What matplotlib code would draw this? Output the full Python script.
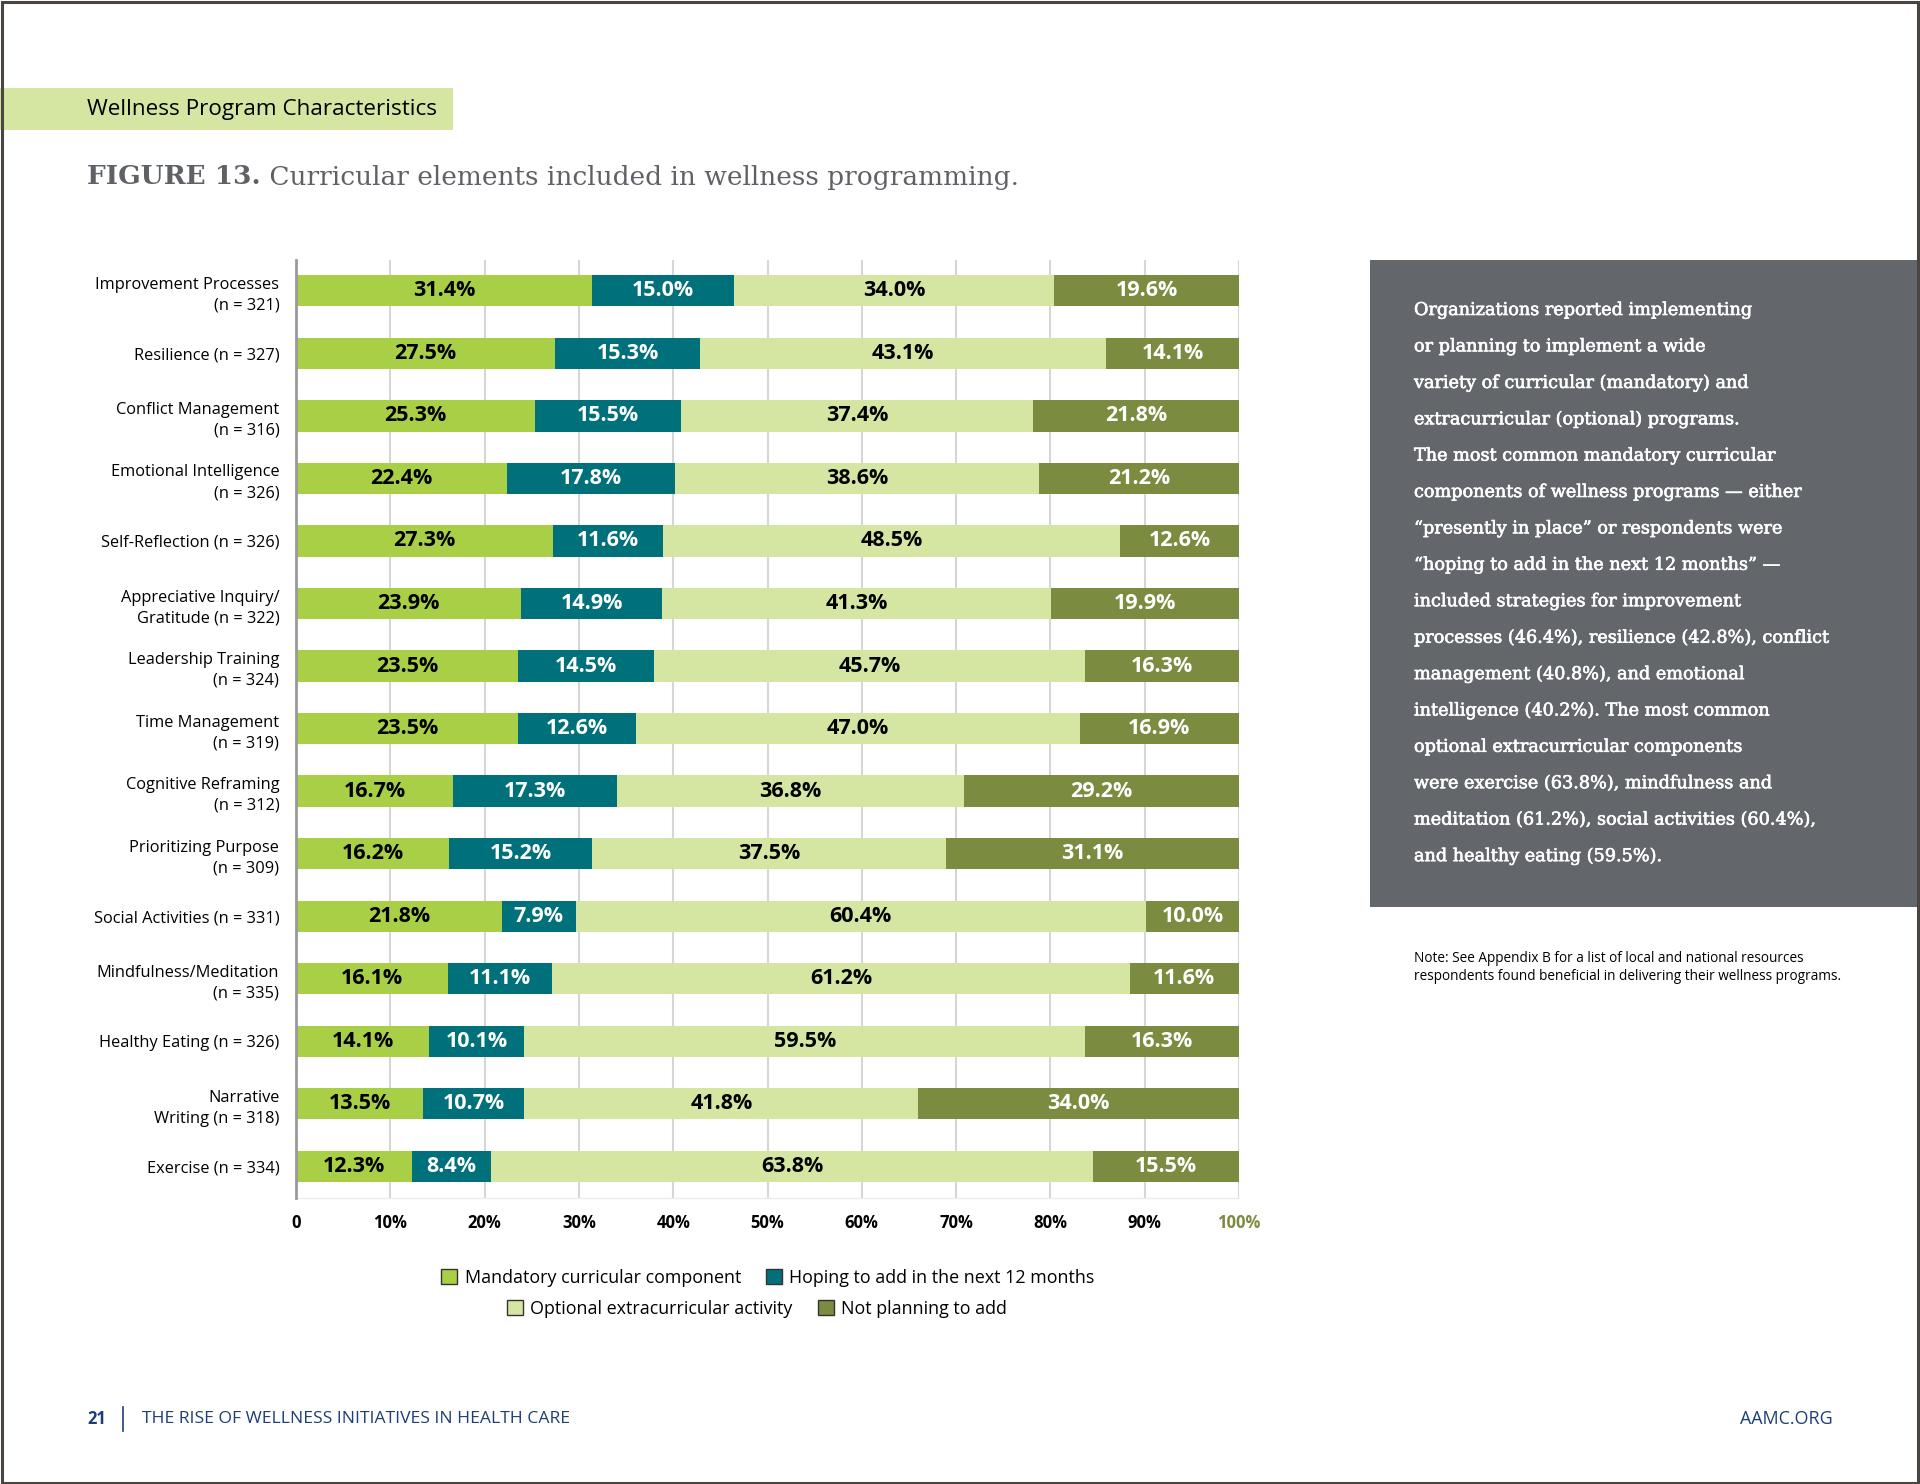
import matplotlib
matplotlib.use("Agg")
import matplotlib.pyplot as plt
from matplotlib.patches import Rectangle, Patch
import matplotlib.patheffects as pe

# ---------------- data ----------------
categories = [
    "Improvement Processes\n(n = 321)",
    "Resilience (n = 327)",
    "Conflict Management\n(n = 316)",
    "Emotional Intelligence\n(n = 326)",
    "Self-Reflection (n = 326)",
    "Appreciative Inquiry/\nGratitude (n = 322)",
    "Leadership Training\n(n = 324)",
    "Time Management\n(n = 319)",
    "Cognitive Reframing\n(n = 312)",
    "Prioritizing Purpose\n(n = 309)",
    "Social Activities (n = 331)",
    "Mindfulness/Meditation\n(n = 335)",
    "Healthy Eating (n = 326)",
    "Narrative\nWriting (n = 318)",
    "Exercise (n = 334)",
]
mandatory = [31.4, 27.5, 25.3, 22.4, 27.3, 23.9, 23.5, 23.5, 16.7, 16.2, 21.8, 16.1, 14.1, 13.5, 12.3]
hoping = [15.0, 15.3, 15.5, 17.8, 11.6, 14.9, 14.5, 12.6, 17.3, 15.2, 7.9, 11.1, 10.1, 10.7, 8.4]
optional = [34.0, 43.1, 37.4, 38.6, 48.5, 41.3, 45.7, 47.0, 36.8, 37.5, 60.4, 61.2, 59.5, 41.8, 63.8]
not_planning = [19.6, 14.1, 21.8, 21.2, 12.6, 19.9, 16.3, 16.9, 29.2, 31.1, 10.0, 11.6, 16.3, 34.0, 15.5]
series_names = ["Mandatory curricular component", "Hoping to add in the next 12 months",
                "Optional extracurricular activity", "Not planning to add"]
x_ticks = [0, 10, 20, 30, 40, 50, 60, 70, 80, 90, 100]
x_tick_labels = ["0", "10%", "20%", "30%", "40%", "50%", "60%", "70%", "80%", "90%", "100%"]

side_text_lines = [
    "Organizations reported implementing",
    "or planning to implement a wide",
    "variety of curricular (mandatory) and",
    "extracurricular (optional) programs.",
    "The most common mandatory curricular",
    "components of wellness programs \u2014 either",
    "\u201cpresently in place\u201d or respondents were",
    "\u201choping to add in the next 12 months\u201d \u2014",
    "included strategies for improvement",
    "processes (46.4%), resilience (42.8%), conflict",
    "management (40.8%), and emotional",
    "intelligence (40.2%). The most common",
    "optional extracurricular components",
    "were exercise (63.8%), mindfulness and",
    "meditation (61.2%), social activities (60.4%),",
    "and healthy eating (59.5%).",
]

# ---------------- style ----------------
C_MAND = "#a8cf45"
C_HOPE = "#00717a"
C_OPT = "#d5e6a3"
C_NOT = "#7b8b3f"
colors = [C_MAND, C_HOPE, C_OPT, C_NOT]
label_colors = ["black", "white", "black", "white"]

SANS = ["Open Sans", "DejaVu Sans"]
SERIF = ["DejaVu Serif"]
plt.rcParams["font.family"] = SANS

W, H = 1920, 1484
fig = plt.figure(figsize=(W / 100, H / 100), dpi=100)
fig.patch.set_facecolor("white")


def fx(px):
    return px / W


def fy(py):
    return 1 - py / H


# page border
fig.add_artist(Rectangle((0.0008, 0.001), 0.9984, 0.9978, transform=fig.transFigure,
                         fill=False, edgecolor="#4b4542", linewidth=2.2, zorder=10))

# header band
fig.add_artist(Rectangle((0, fy(130)), fx(453), (130 - 88) / H, transform=fig.transFigure,
                         facecolor="#d4e6a1", edgecolor="none", zorder=1))
fig.text(fx(87), fy(109), "Wellness Program Characteristics", fontsize=16.2, color="black",
         va="center", ha="left", family=SANS)

# ---------------- chart ----------------
ax = fig.add_axes([fx(296), fy(1197.6), fx(1239) - fx(296), (1197.6 - 259.6) / H])
y = list(range(len(categories)))
left = [0.0] * len(categories)
series = [mandatory, hoping, optional, not_planning]
for vals, col, lc in zip(series, colors, label_colors):
    bars = ax.barh(y, vals, left=left, height=0.5, color=col, edgecolor="none", zorder=3)
    for b, v in zip(bars, vals):
        cx = b.get_x() + b.get_width() / 2
        cy = b.get_y() + b.get_height() / 2
        ax.text(cx, cy, f"{v:.1f}%", ha="center", va="center", color=lc,
                fontsize=15.5, fontweight="bold", zorder=4)
    left = [l + v for l, v in zip(left, vals)]

ax.set_xlim(0, 100)
ax.set_ylim(len(categories) - 0.5, -0.5)
ax.set_yticks(y)
ax.set_yticklabels(categories, fontsize=11.8, linespacing=1.4)
ax.set_xticks(x_ticks)
ax.set_xticklabels(x_tick_labels, fontsize=12, fontweight="bold")
ax.get_xticklabels()[-1].set_color("#7b8b3f")
ax.tick_params(axis="both", length=0)
ax.tick_params(axis="y", pad=12)
ax.tick_params(axis="x", pad=12)
ax.grid(axis="x", color="#d6d6d6", linewidth=1.5, zorder=0)
ax.set_axisbelow(True)
for s in ["top", "right"]:
    ax.spines[s].set_visible(False)
ax.spines["bottom"].set_color("#ececec")
ax.spines["bottom"].set_linewidth(1)
ax.spines["left"].set_color("#9a9a9a")
ax.spines["left"].set_linewidth(2)
ax.spines["left"].set_zorder(5)

# title (two weights)
t1 = fig.text(fx(87), fy(177), "FIGURE 13.", fontsize=19, fontweight="bold", color="#5e6166",
              va="center", ha="left", family=SERIF)
ax.annotate(" Curricular elements included in wellness programming.", xy=(1, 0),
            xycoords=t1, va="bottom", ha="left", fontsize=19, color="#5e6166",
            family=SERIF, annotation_clip=False)

# legends (two centred rows)
handles = [Patch(facecolor=c, edgecolor="#333333", linewidth=1.0) for c in colors]
leg_kw = dict(frameon=False, fontsize=12.9, handlelength=0.9, handleheight=0.9,
              handletextpad=0.4, columnspacing=1.4, ncol=2, loc="center")
fig.legend(handles[:2], series_names[:2], bbox_to_anchor=(fx(768), fy(1278)), **leg_kw)
fig.legend(handles[2:], series_names[2:], bbox_to_anchor=(fx(757), fy(1309)), **leg_kw)

# ---------------- side box ----------------
fig.add_artist(Rectangle((fx(1370), fy(907)), fx(1918) - fx(1370), (907 - 260) / H,
                         transform=fig.transFigure, facecolor="#63666b", edgecolor="none", zorder=1))
for i, line in enumerate(side_text_lines):
    fig.text(fx(1414), fy(310 + i * 36.4), line, fontsize=12.7, color="white", family=SERIF,
             va="center", ha="left", zorder=2,
             path_effects=[pe.withStroke(linewidth=0.45, foreground="white")])

fig.text(fx(1414), fy(958), "Note: See Appendix B for a list of local and national resources",
         fontsize=9.8, color="black", va="center", ha="left")
fig.text(fx(1414), fy(976), "respondents found beneficial in delivering their wellness programs.",
         fontsize=9.8, color="black", va="center", ha="left")

# ---------------- footer ----------------
NAVY = "#1c3f77"
fig.text(fx(87), fy(1419), "21", fontsize=12, fontweight="bold", color=NAVY, va="center", ha="left")
fig.add_artist(plt.Line2D([fx(123), fx(123)], [fy(1407), fy(1431)], transform=fig.transFigure,
                          color=NAVY, linewidth=1.2))
fig.text(fx(142), fy(1419), "THE RISE OF WELLNESS INITIATIVES IN HEALTH CARE", fontsize=12.6,
         color=NAVY, va="center", ha="left")
fig.text(fx(1833), fy(1419), "AAMC.ORG", fontsize=12.9, color=NAVY, va="center", ha="right")

fig.savefig("out.png", dpi=100, facecolor="white")
